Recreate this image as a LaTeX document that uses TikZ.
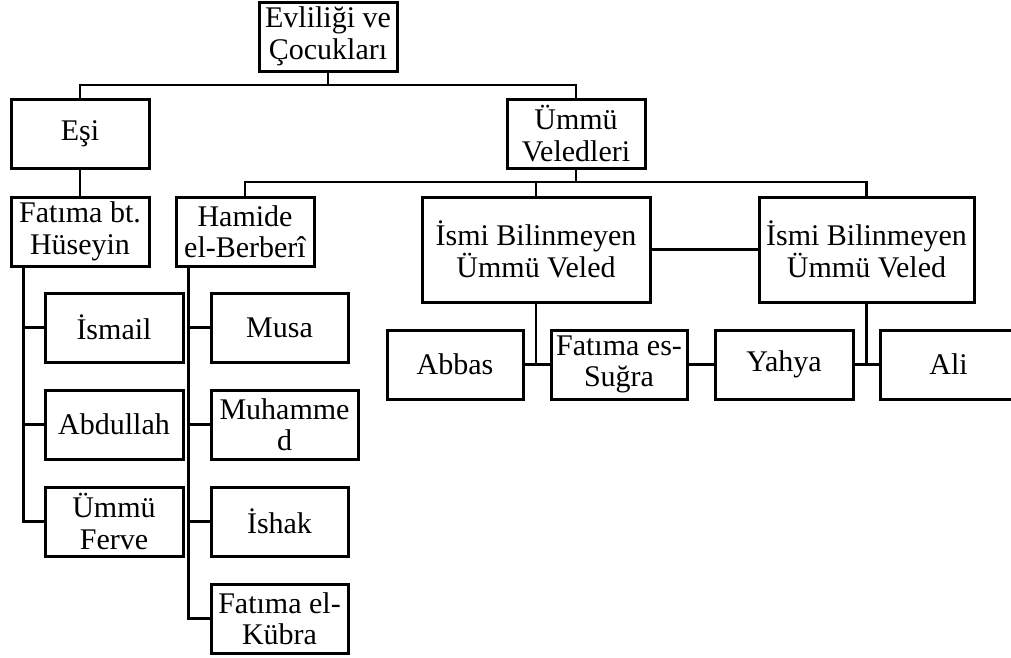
\documentclass[tikz,border=0pt]{standalone}
\usepackage{fontspec}
\setmainfont{Liberation Serif}
\usepackage{tikz}
\usetikzlibrary{calc}
\usetikzlibrary{positioning}
\tikzset{kutu/.style={draw,rectangle,line width=3pt,fill=white,
    align=center,inner sep=1pt,minimum width=138pt,minimum height=69pt,
    font=\fontsize{30}{31.5}\selectfont}}
\tikzset{genis/.style={kutu,minimum height=105pt}}
\newcommand{\drawbag}{%
  \draw[line width=2.1pt]
}

\begin{document}
\begin{tikzpicture}[x=1pt,y=-1pt]
      \path[use as bounding box] (0,0) rectangle (1011,657);

      % Nodes {{{

      \node[kutu] (evlilik) at (328,36.5) {Evliliği ve\\Çocukları};
      \node[kutu] (esi) at (80,133.5) {Eşi};
      \node[kutu] (ummuveled) at (576,133.5) {Ümmü\\Veledleri};

      \node[kutu] (fatimabt) at (80,231.5) {Fatıma bt.\\Hüseyin};
      \node[kutu] (hamide) at (245,231.5) {Hamide\\el-Berberî};
      \node[genis,minimum width=228pt] (isim1) at (536,249.5) {İsmi Bilinmeyen\\Ümmü Veled};
      \node[genis,minimum width=215pt] (isim2) at (866.5,249.5) {İsmi Bilinmeyen\\Ümmü Veled};

      \node[kutu] (ismail) at (114,327.5) {İsmail};
      \node[kutu] (abdullah) at (114,424.5) {Abdullah};
      \node[kutu] (ferve) at (114,521.5) {Ümmü\\Ferve};

      \node[kutu,minimum width=137pt] (musa) at (279.5,327.5) {Musa};
      \node[kutu,minimum width=147pt] (muhammed) at (284.5,424.5) {Muhamme\\d};
      \node[kutu,minimum width=137pt] (ishak) at (279.5,521.5) {İshak};
      \node[kutu,minimum width=137pt] (kubra) at (279.5,618.5) {Fatıma el-\\Kübra};

      \node[kutu,minimum width=136pt] (abbas) at (455,364.5) {Abbas};
      \node[kutu,minimum width=136pt] (fsugra) at (619,364.5) {Fatıma es-\\Suğra};
      \node[kutu] (yahya) at (784,364.5) {Yahya};
      \node[kutu,minimum width=137pt] (ali) at (948.5,364.5) {Ali};

      % }}}

      % Lines {{{

      \coordinate (ust) at (evlilik.south |- 0,85);
      \coordinate (orta) at (ummuveled.south |- 0,182);
      \coordinate (solkol) at ($(fatimabt.south west)+(14,0)$);
      \coordinate (sagkol) at ($(hamide.south west)+(14,0)$);

      \drawbag (evlilik.south) -- (ust);
      \drawbag (esi.north) |- (ust) -| (ummuveled.north);
      \drawbag (esi.south) -- (fatimabt.north);

      \drawbag (ummuveled.south) -- (orta);
      \drawbag (hamide.north) |- (orta) -| (isim2.north);
      \drawbag (isim1.north) -- (isim1.north |- orta);
      \drawbag (isim1.east) -- (isim2.west);

      \drawbag (solkol) |- (ferve.west);
      \drawbag (solkol |- ismail.west) -- (ismail.west);
      \drawbag (solkol |- abdullah.west) -- (abdullah.west);

      \drawbag (sagkol) |- (kubra.west);
      \drawbag (sagkol |- musa.west) -- (musa.west);
      \drawbag (sagkol |- muhammed.west) -- (muhammed.west);
      \drawbag (sagkol |- ishak.west) -- (ishak.west);

      \drawbag (isim1.south) -- (isim1.south |- abbas.east);
      \drawbag (abbas.east) -- (fsugra.west);
      \drawbag (fsugra.east) -- (yahya.west);
      \drawbag (isim2.south) -- (isim2.south |- yahya.east);
      \drawbag (yahya.east) -- (ali.west);

      % }}}

    \end{tikzpicture}
\end{document}
